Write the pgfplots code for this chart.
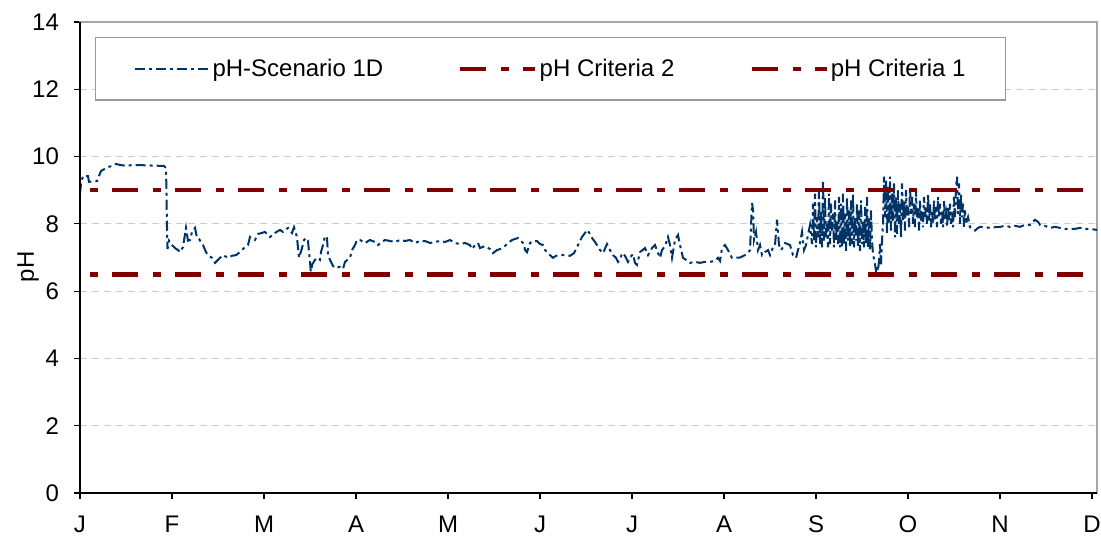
\documentclass[border=0pt]{standalone}
\usepackage{fontspec}
\setmainfont{Liberation Sans}
\usepackage{pgfplots}
\usepackage{pgfplotstable}
\pgfplotsset{compat=1.18}
\definecolor{phblue}{RGB}{0,51,102}
\definecolor{critred}{RGB}{128,0,0}
\pgfplotstableread{
x y
0 8.9
1 9.2
3 9.42
8 9.42
9 9.25
17 9.27
21 9.57
28 9.69
32 9.72
36 9.78
40 9.75
45 9.73
55 9.75
65 9.74
75 9.73
84 9.72
86 9.66
86.5 8.9
87 7.9
87.5 7.25
89 7.5
92 7.37
95 7.28
98 7.22
100 7.16
103 7.31
106 7.88
108 7.5
110 7.52
112 7.76
115 7.88
117 7.58
119 7.55
123 7.37
126 7.16
128 7.07
132 6.99
135 6.84
140 6.99
143 7.07
148 6.99
152 7.05
156 7.07
160 7.16
164 7.28
168 7.37
170 7.61
175 7.52
178 7.70
182 7.73
185 7.76
190 7.61
195 7.73
200 7.82
203 7.76
208 7.88
212 7.73
214 7.90
217 7.61
218 7.28
219 6.99
222 7.28
224 7.52
226 7.58
228 7.49
229 7.16
230 6.87
231 6.48
232 6.78
235 6.93
237 6.99
240 6.93
241 7.16
243 7.37
245 7.64
247 7.58
248 7.07
250 6.93
253 6.75
255 6.69
260 6.72
263 6.66
265 6.87
270 6.99
272 7.22
275 7.37
277 7.52
280 7.52
285 7.43
290 7.52
295 7.46
298 7.37
302 7.46
305 7.52
310 7.49
315 7.46
320 7.52
325 7.49
330 7.52
335 7.43
340 7.49
345 7.49
350 7.43
355 7.46
360 7.49
365 7.46
370 7.52
375 7.43
380 7.40
385 7.43
390 7.37
392 7.25
395 7.37
398 7.43
400 7.28
405 7.34
410 7.25
413 7.13
417 7.22
420 7.25
425 7.34
428 7.43
432 7.52
435 7.55
438 7.58
441 7.49
444 7.40
445 7.22
447 7.16
450 7.43
453 7.49
457 7.49
460 7.40
463 7.37
465 7.22
468 7.13
470 7.07
473 6.99
476 7.05
480 7.07
485 7.07
490 7.05
494 7.13
498 7.37
502 7.61
505 7.73
507 7.82
510 7.70
512 7.58
515 7.46
517 7.37
520 7.22
523 7.13
527 7.40
530 7.22
533 7.07
536 6.99
538 6.87
540 6.93
542 7.13
545 7.05
548 6.87
550 7.00
553 7.10
555 6.84
557 6.78
560 7.16
565 7.28
568 7.07
572 7.28
575 7.37
578 7.13
580 6.99
582 7.22
585 7.34
588 7.61
590 7.37
592 6.99
595 7.52
598 7.67
600 7.37
603 6.99
606 6.93
610 6.84
615 6.87
620 6.84
625 6.87
630 6.87
635 6.90
638 6.99
640 6.90
642 7.28
645 7.37
648 7.22
652 6.99
655 6.99
660 7.00
665 7.07
668 7.13
670 7.22
672 8.62
673 8.41
674 7.52
676 7.76
678 7.22
680 7.37
682 7.07
685 7.16
688 7.22
690 7.07
693 7.31
695 7.37
697 8.12
699 7.37
701 7.22
703 7.31
705 7.43
710 7.37
713 7.07
716 6.99
718 7.22
720 7.43
722 7.76
724 7.22
726 7.37
728 7.67
730 7.97
732 7.4
733 8.6
734 7.5
735 8.9
736 7.3
737 8.2
738 7.6
739 9.0
740 7.4
741 8.4
742 7.3
743 9.3
744 7.5
745 8.8
746 7.6
747 8.0
748 7.3
749 8.9
750 7.4
751 8.6
752 7.8
753 8.3
754 7.3
755 8.7
756 7.5
757 8.1
758 7.4
759 8.8
760 7.3
761 8.6
762 7.3
763 8.9
764 7.4
765 8.3
766 7.2
767 8.8
768 7.5
769 8.4
770 7.3
771 8.7
772 7.4
773 8.9
774 7.3
775 8.2
776 7.5
777 8.6
778 7.3
779 8.4
780 7.2
781 8.7
782 7.4
783 8.1
784 7.3
785 8.5
786 7.4
787 8.8
788 7.3
789 8.2
790 7.2
791 8.4
792 7.5
793 7.1
795 6.8
796 6.6
797 6.75
798 6.6
799 6.9
800 7.4
801 6.8
802 7.5
803 8.0
804 9.4
805 8.2
806 9.3
807 7.7
808 9.1
809 8.0
810 9.4
811 7.8
812 8.9
813 8.1
814 9.2
815 7.6
816 8.8
817 7.7
818 9.0
819 8.0
820 8.6
821 7.6
822 9.2
823 8.1
824 8.7
825 7.8
826 9.0
827 8.2
828 8.5
829 7.9
830 9.1
831 8.3
832 8.8
833 8.0
834 8.6
835 7.9
836 9.0
837 8.2
838 8.5
839 7.8
840 8.7
841 8.1
842 8.4
843 7.9
844 8.8
845 8.2
846 8.5
847 8.0
848 8.9
849 8.1
850 8.6
851 7.9
852 8.4
853 8.0
854 8.7
855 8.1
856 8.5
857 7.9
858 8.8
859 8.2
860 8.6
861 8.0
862 8.4
863 7.9
864 8.7
865 8.1
866 8.3
867 7.9
868 8.5
869 8.1
870 8.6
871 8.0
872 8.4
873 7.9
874 8.8
875 8.2
876 9.1
877 9.4
878 8.3
879 9.2
880 8.0
881 8.9
882 8.2
883 8.6
884 7.9
885 8.4
886 8.0
888 8.2
890 7.9
892 7.85
895 7.8
898 7.88
900 7.91
905 7.9
910 7.88
915 7.9
920 7.91
925 7.94
930 7.91
935 7.94
940 7.91
945 7.97
950 7.97
955 8.12
958 8.06
960 7.97
965 7.94
970 7.88
975 7.91
980 7.88
985 7.85
990 7.85
995 7.85
1000 7.88
1005 7.85
1010 7.85
1017 7.82
}\phdata
\begin{document}
\begin{tikzpicture}
\begin{axis}[
  name=ax,
  scale only axis,
  width=508.5pt, height=235.5pt,
  xmin=0, xmax=1017, ymin=0, ymax=14,
  xtick={0,92,184,276,368,460,552,644,736,828,920,1012},
  xticklabels={J,F,M,A,M,J,J,A,S,O,N,D},
  ytick={0,2,4,6,8,10,12,14},
  font=\fontsize{12}{14}\selectfont,
  /pgf/number format/assume math mode=true,
  tick align=outside,
  xtick pos=bottom, ytick pos=left,
  major tick length=3pt,
  tick style={black, line width=0.6pt},
  axis line style={gray!70, line width=0.6pt},
  xticklabel style={yshift=-5pt},
  yticklabel style={xshift=-4pt},
  ymajorgrids,
  major grid style={gray!40, line width=0.6pt, dash pattern=on 3.5pt off 2.5pt},
  ylabel={pH},
  every axis y label/.style={at={(axis description cs:-0.051,0.48)}, rotate=90, anchor=center},
  legend columns=3,
  legend style={
    at={(rel axis cs:0.0147,0.968)}, anchor=north west,
    draw=gray!80, line width=0.6pt,
    inner xsep=19pt, inner ysep=9.5pt,
    font=\fontsize{12}{14}\selectfont,
    nodes={inner sep=1pt},
    /tikz/every even column/.append style={column sep=36.5pt},
  },
  legend image code/.code={\draw[#1, dash phase=0pt] (0pt,0pt) -- (37.5pt,0pt);},
]
\addplot[phblue, line width=1pt, dash pattern=on 5pt off 2pt on 1.5pt off 2pt] table {\phdata};
\addlegendentry{pH-Scenario 1D}
\addplot[critred, line width=2.2pt, dash pattern=on 13pt off 7.5pt on 4pt off 7pt, dash phase=15.5pt] coordinates {(0,9) (1017,9)};
\addlegendentry{pH Criteria 2}
\addplot[critred, line width=2.2pt, dash pattern=on 13pt off 7.5pt on 4pt off 7pt, dash phase=15.5pt] coordinates {(0,6.5) (1017,6.5)};
\addlegendentry{pH Criteria 1}
\end{axis}
\draw[black, line width=1pt] (ax.north west) -- (ax.south west) -- (ax.south east);
\pgfresetboundingbox
\path[use as bounding box] ([xshift=-40pt,yshift=-22pt]ax.south west) rectangle ([xshift=2pt,yshift=11pt]ax.north east);
\end{tikzpicture}
\end{document}
